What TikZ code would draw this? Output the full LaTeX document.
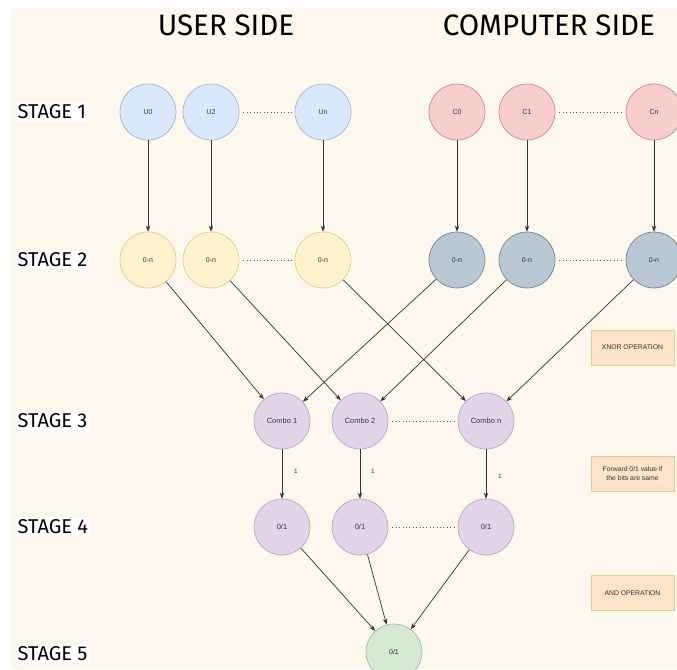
\documentclass[tikz,border=0pt]{standalone}
\usepackage{fontspec}
\setmainfont{Liberation Sans}
\newfontfamily\titlefont{Fira Sans}
\usetikzlibrary{arrows.meta}
\definecolor{bgc}{HTML}{FDF8EE}
\definecolor{ufill}{HTML}{DAE8FC}\definecolor{udraw}{HTML}{9DB3D6}
\definecolor{cfill}{HTML}{F8CECC}\definecolor{cdraw}{HTML}{C98886}
\definecolor{yfill}{HTML}{FFF2CC}\definecolor{ydraw}{HTML}{E0CB8A}
\definecolor{gfill}{HTML}{BAC8D3}\definecolor{gdraw}{HTML}{6F8596}
\definecolor{pfill}{HTML}{E1D5E7}\definecolor{pdraw}{HTML}{B9A3C6}
\definecolor{nfill}{HTML}{D5E8D4}\definecolor{ndraw}{HTML}{9CC48C}
\definecolor{ofill}{HTML}{FDE3C8}\definecolor{odraw}{HTML}{E6CC8E}
\definecolor{txt}{HTML}{333333}
\tikzset{
  x=1pt,y=-1pt,
  bub/.style={circle,minimum size=56pt,inner sep=0pt,line width=0.7pt,font=\fontsize{7}{8}\selectfont,text=txt},
  ub/.style={bub,fill=ufill,draw=udraw},
  cb/.style={bub,fill=cfill,draw=cdraw},
  yb/.style={bub,fill=yfill,draw=ydraw},
  gb/.style={bub,fill=gfill,draw=gdraw},
  pb/.style={bub,fill=pfill,draw=pdraw,font=\fontsize{7.5}{9}\selectfont},
  nb/.style={bub,fill=nfill,draw=ndraw},
  opbox/.style={rectangle,fill=ofill,draw=odraw,line width=0.8pt,minimum width=83pt,minimum height=35pt,inner sep=1pt,align=center,font=\fontsize{6.8}{8.5}\selectfont,text=txt},
  stagelbl/.style={fill=white,inner sep=1.5pt,font=\titlefont\fontsize{20}{22}\selectfont,text=black},
  ttl/.style={font=\titlefont\fontsize{29.5}{32}\selectfont,text=black},
  arr/.style={draw=txt,line width=0.7pt,-{Stealth[length=6pt,width=4.5pt]}},
  dots/.style={draw=txt!80,line width=0.8pt,dash pattern=on 0.8pt off 2.6pt,shorten <=4pt,shorten >=2pt},
  elbl/.style={font=\fontsize{6.5}{8}\selectfont,text=txt}
}
\begin{document}
\begin{tikzpicture}
\clip (0,0) rectangle (677,669);
\fill[white] (0,0) rectangle (677,669);
\fill[bgc] (11,8) rectangle (677,669);
% titles
\node[ttl] (t1) at (226,25) {USER SIDE};
\node[ttl] (t2) at (549,25) {COMPUTER SIDE};
% stage labels
\node[stagelbl,anchor=west] (s1) at (16,112) {STAGE 1};
\node[stagelbl,anchor=west] (s2) at (16,260) {STAGE 2};
\node[stagelbl,anchor=west] (s3) at (16,421) {STAGE 3};
\node[stagelbl,anchor=west] (s4) at (16,527) {STAGE 4};
\node[stagelbl,anchor=west] (s5) at (16,654) {STAGE 5};
% stage 1
\node[ub] (U0) at (148,112) {U0};
\node[ub] (U2) at (211,112) {U2};
\node[ub] (Un) at (323,112) {Un};
\node[cb] (C0) at (457,112) {C0};
\node[cb] (C1) at (527,112) {C1};
\node[cb] (Cn) at (654,112) {Cn};
% stage 2
\node[yb] (A0) at (148,260) {0-n};
\node[yb] (A2) at (211,260) {0-n};
\node[yb] (An) at (323,260) {0-n};
\node[gb] (B0) at (457,260) {0-n};
\node[gb] (B1) at (527,260) {0-n};
\node[gb] (Bn) at (654,260) {0-n};
% stage 3
\node[pb] (K1) at (282,421) {Combo 1};
\node[pb] (K2) at (360,421) {Combo 2};
\node[pb] (Kn) at (486,421) {Combo n};
% stage 4
\node[pb] (R1) at (282,527) {0/1};
\node[pb] (R2) at (360,527) {0/1};
\node[pb] (Rn) at (486,527) {0/1};
% stage 5
\node[nb] (F) at (394,652) {0/1};
% boxes
\node[opbox] (xnor) at (632.5,347.5) {XNOR OPERATION};
\node[opbox] (fwd) at (632.5,473.5) {Forward 0/1 value if\\the bits are same};
\node[opbox] (andop) at (632.5,593) {AND OPERATION};
% dotted
\draw[dots] (U2) -- (Un);
\draw[dots] (C1) -- (Cn);
\draw[dots] (A2) -- (An);
\draw[dots] (B1) -- (Bn);
\draw[dots] (K2) -- (Kn);
\draw[dots] (R2) -- (Rn);
% arrows stage 1-2
\draw[arr] (U0) -- (A0);
\draw[arr] (U2) -- (A2);
\draw[arr] (Un) -- (An);
\draw[arr] (C0) -- (B0);
\draw[arr] (C1) -- (B1);
\draw[arr] (Cn) -- (Bn);
% stage 2-3
\draw[arr] (A0) -- (K1);
\draw[arr] (A2) -- (K2);
\draw[arr] (An) -- (Kn);
\draw[arr] (B0) -- (K1);
\draw[arr] (B1) -- (K2);
\draw[arr] (Bn) -- (Kn);
% stage 3-4
\draw[arr] (K1) -- node[elbl,pos=0.45,xshift=14pt] {1} (R1);
\draw[arr] (K2) -- node[elbl,pos=0.45,xshift=13pt] {1} (R2);
\draw[arr] (Kn) -- node[elbl,pos=0.55,xshift=14pt] {1} (Rn);
% stage 4-5
\draw[arr] (R1) -- (F);
\draw[arr] (R2) -- (F);
\draw[arr] (Rn) -- (F);
\end{tikzpicture}
\end{document}
